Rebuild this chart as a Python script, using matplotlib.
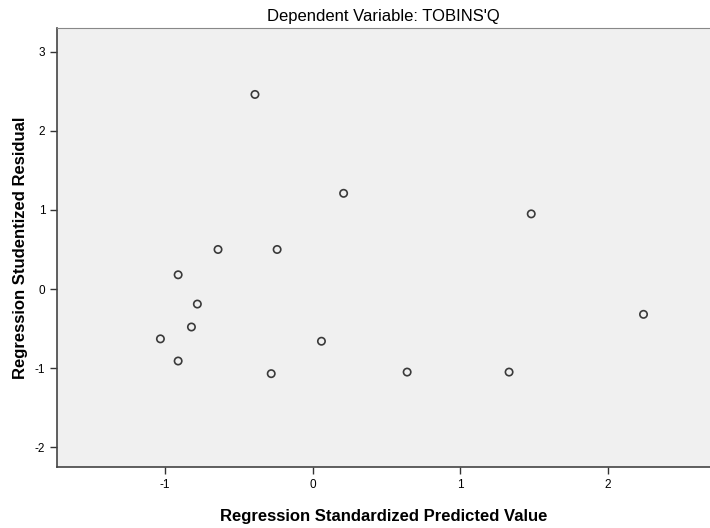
import numpy as np
import matplotlib
matplotlib.use('Agg')
import matplotlib.pyplot as plt

plt.rcParams['font.family'] = ['Liberation Sans', 'DejaVu Sans']
plt.rcParams['axes.unicode_minus'] = False

# standardized predicted value vs studentized residual
predicted = [-0.39, 0.21, 1.48, -0.64, -0.24, -0.91, -0.78, -0.82,
             -1.03, -0.91, 0.06, -0.28, 0.64, 1.33, 2.24]
residual = [2.46, 1.21, 0.95, 0.50, 0.50, 0.18, -0.19, -0.48,
            -0.63, -0.91, -0.66, -1.07, -1.05, -1.05, -0.32]
xticks = [-1, 0, 1, 2]
yticks = [-2, -1, 0, 1, 2, 3]

fig = plt.figure(figsize=(7.10, 5.28), dpi=100)
ax = fig.add_axes([57/710, 1 - 467/528, 1 - 57/710, (467 - 28)/528])
ax.set_facecolor('#f0f0f0')

ax.scatter(predicted, residual, s=28, facecolors='none', edgecolors='#3a3a3a',
           linewidths=1.2, zorder=3)

ax.set_xlim(-1.73, 2.69)
ax.set_ylim(-2.25, 3.30)
ax.set_xticks(xticks)
ax.set_yticks(yticks)
ax.tick_params(direction='out', length=5, width=1, colors='#333333',
               labelsize=8.5, labelcolor='black')

for side in ['left', 'bottom']:
    ax.spines[side].set_color('#444444')
    ax.spines[side].set_linewidth(1.2)
ax.spines['top'].set_color('#888888')
ax.spines['right'].set_visible(False)

ax.set_title("Dependent Variable: TOBINS'Q", fontsize=12, pad=5)
ax.set_xlabel('Regression Standardized Predicted Value', fontsize=12,
              fontweight='bold', labelpad=13)
ax.set_ylabel('Regression Studentized Residual', fontsize=12,
              fontweight='bold', labelpad=5)

fig.savefig('out.png', dpi=100, facecolor='white')
